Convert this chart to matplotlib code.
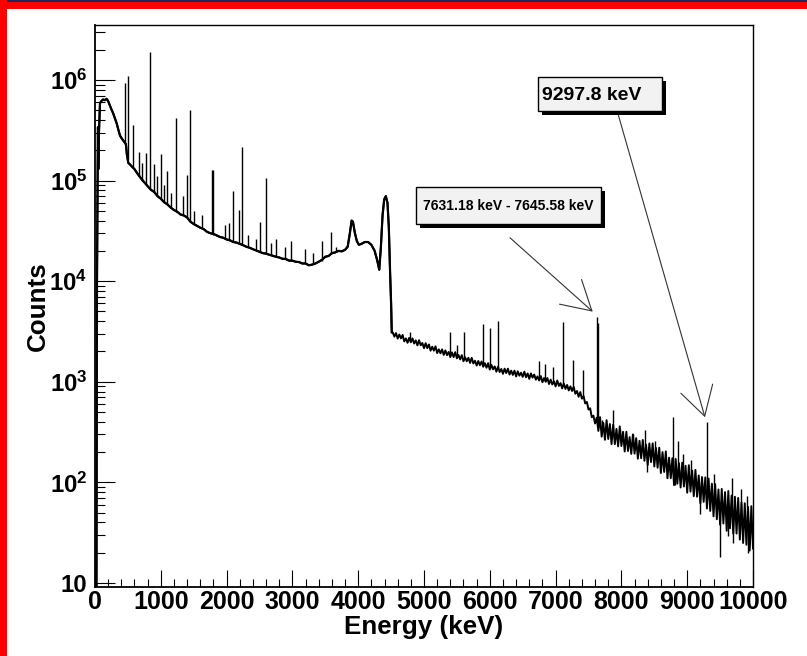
import numpy as np
import matplotlib
matplotlib.use('Agg')
import matplotlib.pyplot as plt
import matplotlib.transforms as mtransforms
from matplotlib.patches import Rectangle
from matplotlib.ticker import FixedLocator, MultipleLocator, LogLocator, NullFormatter

# smooth part of the spectrum, up to the 4.4 MeV line
low_energy = [0, 22, 30, 40, 45, 50, 60, 76, 100, 122, 150, 175, 198, 225, 250,
              274, 300, 330, 355, 380, 410, 440, 470, 485, 506, 530, 560, 600, 650, 700,
              750, 800, 850, 900, 950, 1000, 1050, 1100, 1150, 1200, 1250, 1300, 1350, 1400, 1450,
              1500, 1550, 1600, 1650, 1700, 1750, 1800, 1850, 1900, 1950, 2000, 2050, 2100, 2150,
              2200, 2250, 2300, 2350, 2400, 2450, 2500, 2550, 2600, 2650, 2700, 2750, 2800, 2850,
              2900, 2950, 3000, 3050, 3100, 3150, 3200, 3250, 3300, 3350, 3400, 3450, 3500, 3550,
              3600, 3650, 3700, 3750, 3800, 3840, 3870, 3900, 3920, 3950, 3980, 4010, 4050, 4100,
              4150, 4200, 4250, 4290, 4320, 4345, 4370, 4395, 4420, 4445, 4465, 4485, 4500, 4510]
low_counts = [5, 8, 9000, 1.2e5, 3.4e5, 1.3e5, 3.0e5, 5.9e5, 6.2e5, 6.4e5, 6.3e5, 6.5e5, 6.2e5, 5.6e5, 5.1e5,
              4.7e5, 4.2e5, 3.7e5, 3.2e5, 2.8e5, 2.6e5, 2.45e5, 2.3e5, 1.8e5, 1.5e5, 1.45e5, 1.38e5, 1.3e5, 1.16e5, 1.05e5,
              9.6e4, 8.8e4, 8.1e4, 7.7e4, 7.0e4, 6.6e4, 6.1e4, 5.8e4, 5.4e4, 5.1e4, 4.9e4, 4.6e4, 4.5e4, 4.3e4, 3.9e4,
              3.7e4, 3.55e4, 3.4e4, 3.3e4, 3.1e4, 3.0e4, 2.95e4, 2.85e4, 2.75e4, 2.7e4, 2.6e4, 2.55e4, 2.45e4, 2.42e4,
              2.35e4, 2.28e4, 2.2e4, 2.15e4, 2.08e4, 2.02e4, 1.96e4, 1.9e4, 1.88e4, 1.83e4, 1.79e4, 1.75e4, 1.72e4, 1.67e4,
              1.66e4, 1.6e4, 1.6e4, 1.56e4, 1.55e4, 1.5e4, 1.5e4, 1.44e4, 1.46e4, 1.5e4, 1.56e4, 1.63e4, 1.75e4, 1.78e4,
              1.9e4, 1.93e4, 2.0e4, 1.98e4, 2.05e4, 2.2e4, 2.9e4, 4.0e4, 3.9e4, 3.0e4, 2.5e4, 2.3e4, 2.35e4, 2.45e4,
              2.45e4, 2.3e4, 2.0e4, 1.6e4, 1.3e4, 2.2e4, 4.5e4, 6.5e4, 7.0e4, 6.0e4, 3.5e4, 1.2e4, 6.0e3, 3.1e3]

# noisy tail above 4.5 MeV, one value every 25 keV
tail_energy = list(range(4525, 10001, 25))
tail_counts = [3100, 2810, 3050, 2690, 2950, 2700, 2920, 2520, 2700, 2440,
               2730, 2470, 2700, 2400, 2580, 2300, 2590, 2310, 2430, 2160,
               2420, 2160, 2350, 2040, 2230, 2040, 2250, 1930, 2100, 1920,
               2100, 1850, 2050, 1840, 1980, 1760, 1960, 1760, 1970, 1710,
               1840, 1670, 1840, 1600, 1750, 1600, 1730, 1540, 1730, 1520,
               1620, 1450, 1610, 1460, 1590, 1410, 1530, 1380, 1530, 1320,
               1470, 1330, 1420, 1260, 1410, 1250, 1340, 1200, 1350, 1220,
               1350, 1180, 1290, 1170, 1290, 1130, 1270, 1150, 1230, 1120,
               1260, 1110, 1210, 1070, 1210, 1100, 1180, 1050, 1130, 1030,
               1140, 990, 1090, 1000, 1090, 950, 1050, 940, 1010, 900,
               1030, 910, 970, 860, 960, 850, 930, 820, 900, 810,
               890, 760, 810, 710, 790, 680, 720, 610, 630, 530,
               545, 445, 460, 385, 440, 325, 445, 285, 390, 265,
               415, 270, 380, 240, 375, 240, 340, 228, 360, 230,
               318, 203, 318, 205, 282, 192, 300, 193, 275, 172,
               259, 174, 264, 164, 237, 149, 244, 159, 244, 144,
               220, 140, 221, 124, 200, 127, 203, 110, 176, 110,
               174, 94, 171, 97, 155, 89, 157, 91, 146, 79,
               148, 81, 131, 73, 133, 72, 117, 62, 113, 64,
               112, 55, 109, 52, 97, 46, 96, 43, 85, 38,
               86, 39, 80, 33, 82, 35, 74, 31, 72, 31,
               70, 27, 63, 25, 62, 24, 57, 21, 58, 22]

# narrow gamma lines: energy (keV), continuum under the line, line end
line_energy = [456, 506, 580, 670, 720, 770, 836, 897, 940, 1003, 1050, 1100, 1160, 1226, 1330,
               1393, 1444, 1510, 1620, 1773, 1798, 1980, 2030, 2092, 2193, 2229, 2330, 2440, 2508,
               2594, 2680, 2750, 2890, 2975, 3190, 3320, 3445, 3580, 3670,
               4790, 5395, 5495, 5610, 5890, 6000, 6120, 6750, 6840, 6960, 7115, 7265, 7410,
               7631, 7645, 7700, 7875, 7980, 8180, 8360, 8510, 8780, 8865, 8940, 9060, 9298,
               9400, 9675, 9820, 9905,
               8385, 8815, 9195, 9500, 9620, 9700, 9930]
line_base = [2.3e5, 1.6e5, 1.35e5, 1.12e5, 1.0e5, 9.2e4, 8.3e4, 7.6e4, 7.2e4, 6.5e4, 6.1e4, 5.8e4, 5.4e4, 4.9e4, 4.5e4,
             4.2e4, 4.0e4, 3.7e4, 3.4e4, 3.0e4, 2.9e4, 2.65e4, 2.55e4, 2.45e4, 2.35e4, 2.3e4, 2.2e4, 2.05e4, 1.95e4,
             1.87e4, 1.8e4, 1.75e4, 1.66e4, 1.6e4, 1.5e4, 1.48e4, 1.6e4, 1.85e4, 1.95e4,
             2550, 1870, 1800, 1700, 1500, 1400, 1330, 1070, 1040, 980, 900, 830, 700,
             400, 380, 330, 300, 270, 235, 200, 180, 130, 120, 115, 104, 75,
             67, 50, 43, 38,
             195, 128, 86, 58, 54, 50, 38]
line_top = [9.3e5, 1.1e6, 3.6e5, 1.94e5, 1.5e5, 1.88e5, 1.9e6, 1.46e5, 1.1e5, 1.84e5, 9.0e4, 1.25e5, 7.5e4, 4.2e5, 7.0e4,
            1.14e5, 5.0e5, 5.0e4, 4.6e4, 1.27e5, 1.27e5, 3.6e4, 3.8e4, 7.8e4, 5.1e4, 2.15e5, 2.9e4, 2.6e4, 3.9e4,
            1.07e5, 2.4e4, 2.6e4, 2.2e4, 2.5e4, 2.1e4, 1.9e4, 2.5e4, 3.1e4, 2.2e4,
            3100, 3100, 2300, 3100, 3750, 3400, 4000, 1600, 1500, 1400, 3900, 1650, 1300,
            4400, 3800, 415, 525, 340, 300, 335, 255, 444, 260, 190, 165, 395,
            120, 110, 85, 73,
            128, 95, 48, 18, 29, 25, 20]

plt.rcParams['font.family'] = ['Liberation Sans', 'DejaVu Sans']
plt.rcParams['font.weight'] = 'bold'
plt.rcParams['mathtext.fontset'] = 'custom'
plt.rcParams['mathtext.rm'] = 'Liberation Sans:bold'
plt.rcParams['mathtext.it'] = 'Liberation Sans:bold'
plt.rcParams['mathtext.bf'] = 'Liberation Sans:bold'


def draw_pave(fig, ax, x0, y0, x1, y1, text, size, tx, ty, ha):
    """grey label box with a black drop shadow, axes coordinates"""
    shadow_tr = mtransforms.offset_copy(ax.transAxes, fig, x=4, y=-4, units='dots')
    ax.add_patch(Rectangle((x0, y0), x1 - x0, y1 - y0, transform=shadow_tr,
                           facecolor='black', edgecolor='none', clip_on=False, zorder=5))
    ax.add_patch(Rectangle((x0, y0), x1 - x0, y1 - y0, transform=ax.transAxes,
                           facecolor='#f2f2f2', edgecolor='black', lw=1.0, clip_on=False, zorder=6))
    ax.text(tx, ty, text, transform=ax.transAxes, fontsize=size, fontweight='bold',
            ha=ha, va='center', zorder=7)


def draw_arrow(ax, tip, tail):
    ax.annotate('', xy=tip, xytext=tail,
                arrowprops=dict(arrowstyle='->,head_length=20.6,head_width=11.9',
                                mutation_scale=1, lw=0.8, color='#333333',
                                shrinkA=0, shrinkB=0))


def create_plot():
    fig = plt.figure(figsize=(8.07, 6.56), dpi=100)
    fig.patch.set_facecolor('white')

    # red frame on top and left edges
    fig.add_artist(Rectangle((0, 1 - 9 / 656.), 1, 9 / 656., transform=fig.transFigure,
                             facecolor='#ff0000', edgecolor='none'))
    fig.add_artist(Rectangle((0, 1 - 1.5 / 656.), 1, 1.5 / 656., transform=fig.transFigure,
                             facecolor='#1a2a5a', edgecolor='none'))
    fig.add_artist(Rectangle((0, 0), 7.3 / 807., 1, transform=fig.transFigure,
                             facecolor='#ff0000', edgecolor='none'))

    ax = fig.add_axes([95 / 807., 1 - 587 / 656., 658 / 807., 562 / 656.])

    ax.plot(low_energy + tail_energy, low_counts + tail_counts, color='black', lw=1.4)
    ax.plot(low_energy, low_counts, color='black', lw=1.6)
    ax.vlines(line_energy, line_base, line_top, color='black', lw=1.0)

    ax.set_yscale('log')
    ax.set_xlim(0, 10000)
    ax.set_ylim(9.12, 3.52e6)

    ax.xaxis.set_major_locator(MultipleLocator(1000))
    ax.xaxis.set_minor_locator(MultipleLocator(200))
    ax.yaxis.set_major_locator(FixedLocator([10, 1e2, 1e3, 1e4, 1e5, 1e6]))
    ax.set_yticklabels(['10', r'$10^{2}$', r'$10^{3}$', r'$10^{4}$', r'$10^{5}$', r'$10^{6}$'])
    ax.yaxis.set_minor_locator(LogLocator(base=10, subs=np.arange(2, 10)))
    ax.yaxis.set_minor_formatter(NullFormatter())

    ax.tick_params(axis='x', which='major', direction='in', length=12.2, width=0.8,
                   labelsize=18, pad=2.5)
    ax.tick_params(axis='x', which='minor', direction='in', length=5.8, width=0.8)
    ax.tick_params(axis='y', which='major', direction='in', length=14.4, width=0.8,
                   labelsize=17.3, pad=5.5)
    ax.tick_params(axis='y', which='minor', direction='in', length=7.2, width=0.8)
    for lab in ax.get_xticklabels() + ax.get_yticklabels():
        lab.set_fontweight('bold')

    for side in ['left', 'bottom']:
        ax.spines[side].set_linewidth(1.3)
    for side in ['top', 'right']:
        ax.spines[side].set_linewidth(1.0)

    ax.set_xlabel('Energy (keV)', fontsize=18.7, fontweight='bold', va='center')
    ax.xaxis.set_label_coords(0.5, -(627 - 587) / 562.)
    ax.set_ylabel('Counts', fontsize=18.7, fontweight='bold', va='center')
    ax.yaxis.set_label_coords(-(95 - 37.8) / 658., 0.5)

    draw_pave(fig, ax, 0.6728, 0.8475, 0.8612, 0.9080, '9297.8 keV', 14,
              0.6793, 0.8754, 'left')
    draw_pave(fig, ax, 0.4878, 0.6459, 0.7690, 0.7112, '7631.18 keV - 7645.58 keV', 10,
              0.6283, 0.6780, 'center')

    draw_arrow(ax, (9270, 444), (7953, 4.49e5))
    draw_arrow(ax, (7564, 4980), (6307, 2.7e4))

    plt.savefig('out.png', dpi=100)
    plt.close()


if __name__ == "__main__":
    create_plot()
